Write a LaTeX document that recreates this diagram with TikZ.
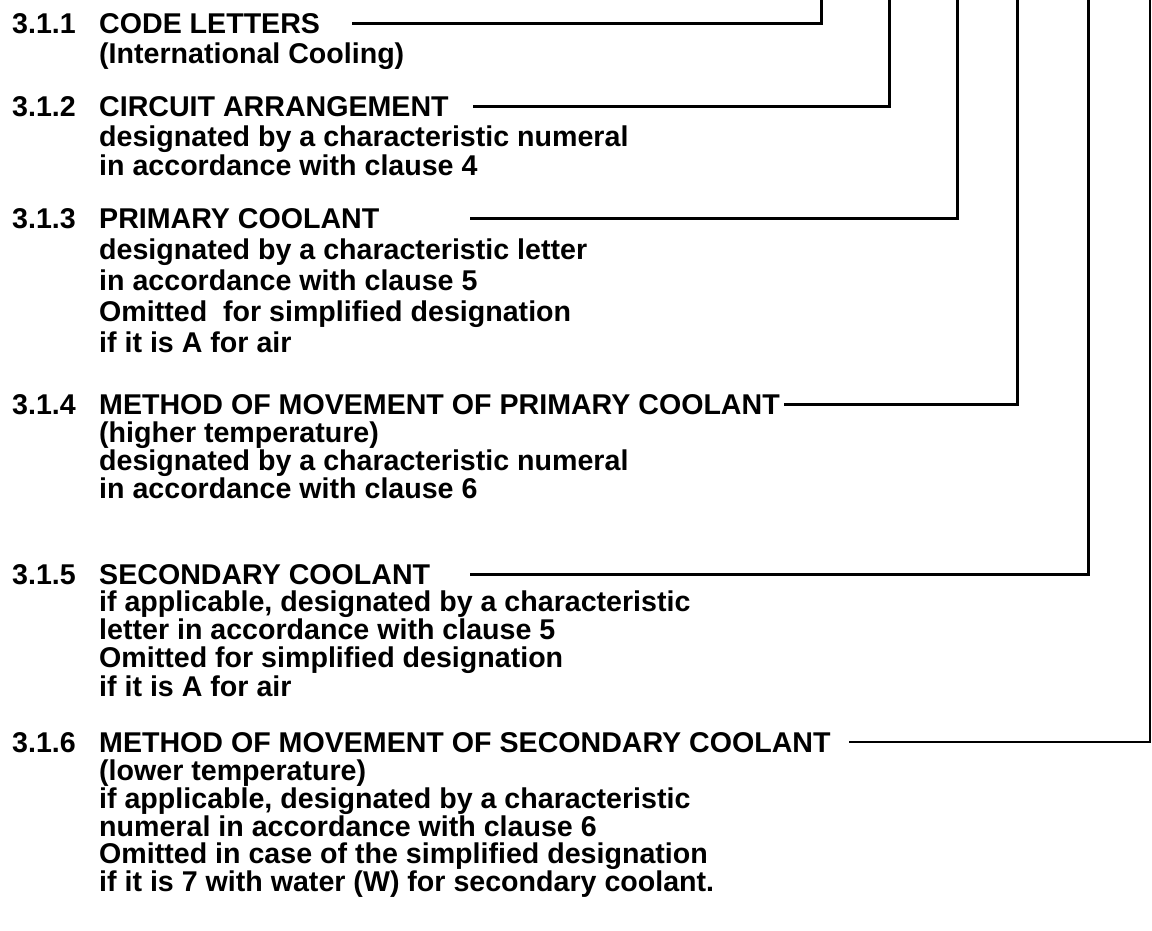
\documentclass[tikz,border=0pt]{standalone}
\usepackage{fontspec}
\setmainfont{Liberation Sans}
\begin{document}
\begin{tikzpicture}[x=1pt,y=-1pt,
  lbl/.style={anchor=base west, inner sep=0pt, font=\bfseries\fontsize{28.6}{28.6}\selectfont},
  conn/.style={line width=3pt, line join=miter}]
\useasboundingbox (0,0) rectangle (1152,930);
\fill[white] (0,0) rectangle (1152,930);
% 3.1.1
\node[lbl] (n1) at (12,33) {3.1.1};
\node[lbl] (h1) at (99,33) {CODE LETTERS};
\node[lbl] (a1) at (99,63) {(International Cooling)};
% 3.1.2
\node[lbl] (n2) at (12,116) {3.1.2};
\node[lbl] (h2) at (99,116) {CIRCUIT ARRANGEMENT};
\node[lbl] (b1) at (99,146) {designated by a characteristic numeral};
\node[lbl] (b2) at (99,175) {in accordance with clause 4};
% 3.1.3
\node[lbl] (n3) at (12,228) {3.1.3};
\node[lbl] (h3) at (99,228) {PRIMARY COOLANT};
\node[lbl] (c1) at (99,259) {designated by a characteristic letter};
\node[lbl] (c2) at (99,290) {in accordance with clause 5};
\node[lbl] (c3) at (99,321) {Omitted\ \ for simplified designation};
\node[lbl] (c4) at (99,352) {if it is A for air};
% 3.1.4
\node[lbl] (n4) at (12,414) {3.1.4};
\node[lbl] (h4) at (99,414) {METHOD OF MOVEMENT OF PRIMARY COOLANT};
\node[lbl] (d1) at (99,442) {(higher temperature)};
\node[lbl] (d2) at (99,470) {designated by a characteristic numeral};
\node[lbl] (d3) at (99,498) {in accordance with clause 6};
% 3.1.5
\node[lbl] (n5) at (12,584) {3.1.5};
\node[lbl] (h5) at (99,584) {SECONDARY COOLANT};
\node[lbl] (e1) at (99,611) {if applicable, designated by a characteristic};
\node[lbl] (e2) at (99,639) {letter in accordance with clause 5};
\node[lbl] (e3) at (99,667) {Omitted for simplified designation};
\node[lbl] (e4) at (99,696) {if it is A for air};
% 3.1.6
\node[lbl] (n6) at (12,752) {3.1.6};
\node[lbl] (h6) at (99,752) {METHOD OF MOVEMENT OF SECONDARY COOLANT};
\node[lbl] (f1) at (99,780) {(lower temperature)};
\node[lbl] (f2) at (99,808) {if applicable, designated by a characteristic};
\node[lbl] (f3) at (99,836) {numeral in accordance with clause 6};
\node[lbl] (f4) at (99,863) {Omitted in case of the simplified designation};
\node[lbl] (f5) at (99,891) {if it is 7 with water (W) for secondary coolant.};
% connector ends
\coordinate (s1) at (352,23);  \coordinate (t1) at (821,0);
\coordinate (s2) at (473,106); \coordinate (t2) at (889,0);
\coordinate (s3) at (470,218); \coordinate (t3) at (957,0);
\coordinate (s4) at (784,404); \coordinate (t4) at (1017,0);
\coordinate (s5) at (470,574); \coordinate (t5) at (1088,0);
\coordinate (s6) at (849,742); \coordinate (t6) at (1150,0);
\draw[conn] (s1) -| (t1);
\draw[conn] (s2) -| (t2);
\draw[conn] (s3) -| (t3);
\draw[conn] (s4) -| (t4);
\draw[conn] (s5) -| (t5);
\draw[conn,line width=2.4pt] (s6) -| (t6);
\end{tikzpicture}
\end{document}
